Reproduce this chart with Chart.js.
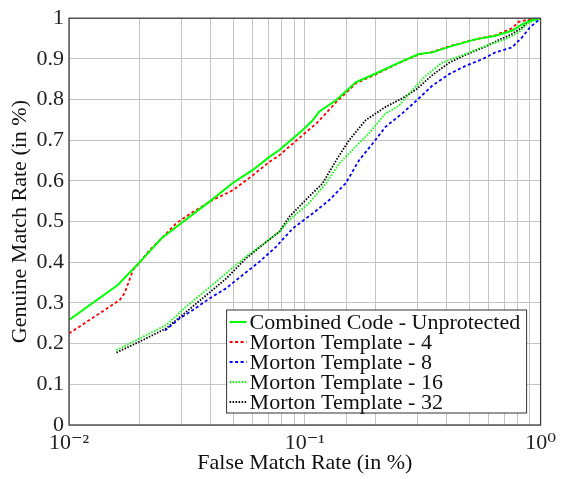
<!DOCTYPE html>
<html>
<head>
<meta charset="utf-8">
<script src="https://cdn.jsdelivr.net/npm/chart.js@4.4.0/dist/chart.umd.min.js"></script>
<style>
  html, body { margin: 0; padding: 0; background: #fff; }
  #wrap { width: 561px; height: 479px; }
</style>
</head>
<body>
<div id="wrap"><canvas id="rocChart" width="561" height="479"></canvas></div>
<script>
// values (FMR on a log axis, GMR linear)
const seriesNames = [
  'Combined Code - Unprotected',
  'Morton Template - 4',
  'Morton Template - 8',
  'Morton Template - 16',
  'Morton Template - 32'
];

const combinedX = [0.01, 0.0161, 0.0200, 0.0247, 0.0394, 0.0495, 0.0602, 0.0708, 0.078, 0.098,
  0.108, 0.115, 0.136, 0.165, 0.200, 0.251, 0.305, 0.347, 0.422, 0.529, 0.643, 0.756, 0.834, 0.918, 1.0];
const combinedY = [0.258, 0.344, 0.401, 0.459, 0.549, 0.595, 0.627, 0.659, 0.676, 0.725,
  0.749, 0.770, 0.799, 0.843, 0.864, 0.891, 0.912, 0.916, 0.932, 0.948, 0.957, 0.969, 0.985, 0.995, 1.0];

const morton4X = [0.01, 0.0164, 0.0172, 0.0187, 0.0200, 0.0220, 0.0251, 0.0285, 0.0336, 0.0407,
  0.0495, 0.0602, 0.0708, 0.078, 0.098, 0.112, 0.136, 0.165, 0.200, 0.251,
  0.305, 0.347, 0.422, 0.529, 0.643, 0.756, 0.807, 0.900, 1.0];
const morton4Y = [0.225, 0.307, 0.324, 0.381, 0.401, 0.430, 0.463, 0.496, 0.524, 0.553,
  0.577, 0.614, 0.647, 0.663, 0.713, 0.741, 0.794, 0.840, 0.862, 0.890,
  0.911, 0.917, 0.933, 0.948, 0.958, 0.975, 0.991, 0.998, 1.0];

const morton8X = [0.0255, 0.0295, 0.0336, 0.0394, 0.0464, 0.0546, 0.0641, 0.0755, 0.0888, 0.108,
  0.127, 0.149, 0.170, 0.194, 0.220, 0.259, 0.297, 0.347, 0.408, 0.481,
  0.565, 0.643, 0.756, 0.834, 0.900, 1.0];
const morton8Y = [0.232, 0.262, 0.283, 0.311, 0.336, 0.369, 0.401, 0.438, 0.483, 0.520,
  0.553, 0.594, 0.651, 0.692, 0.733, 0.766, 0.797, 0.834, 0.862, 0.883,
  0.899, 0.916, 0.928, 0.953, 0.977, 1.0];

const morton16X = [0.0159, 0.0206, 0.0259, 0.0314, 0.0382, 0.0464, 0.0564, 0.0686, 0.078, 0.086,
  0.104, 0.123, 0.140, 0.159, 0.187, 0.220, 0.251, 0.276, 0.325, 0.383,
  0.481, 0.583, 0.709, 0.807, 0.888, 1.0];
const morton16Y = [0.184, 0.217, 0.246, 0.291, 0.332, 0.373, 0.414, 0.450, 0.475, 0.504,
  0.545, 0.594, 0.643, 0.676, 0.717, 0.766, 0.785, 0.813, 0.858, 0.891,
  0.912, 0.932, 0.948, 0.965, 0.989, 1.0];

const morton32X = [0.0159, 0.0206, 0.0259, 0.0314, 0.0382, 0.0464, 0.0564, 0.0686, 0.078, 0.086,
  0.104, 0.119, 0.136, 0.154, 0.181, 0.220, 0.259, 0.297, 0.347, 0.408,
  0.481, 0.583, 0.662, 0.756, 0.834, 0.888, 1.0];
const morton32Y = [0.178, 0.209, 0.238, 0.278, 0.319, 0.360, 0.410, 0.450, 0.475, 0.512,
  0.561, 0.594, 0.651, 0.700, 0.749, 0.782, 0.803, 0.825, 0.860, 0.890,
  0.910, 0.930, 0.946, 0.961, 0.977, 0.993, 1.0];

const yTicks = [0, 0.1, 0.2, 0.3, 0.4, 0.5, 0.6, 0.7, 0.8, 0.9, 1];

const FONT = '"Liberation Serif", "DejaVu Serif", serif';

function toPoints(xs, ys) {
  return xs.map((x, i) => ({ x: x, y: ys[i] }));
}

function makeSet(i, xs, ys, color, dash, width) {
  return {
    label: seriesNames[i],
    data: toPoints(xs, ys),
    borderColor: color,
    backgroundColor: color,
    borderDash: dash,
    borderWidth: width,
    pointRadius: 0,
    tension: 0,
    fill: false
  };
}

const datasets = [
  makeSet(0, combinedX, combinedY, '#00ff00', [], 2),
  makeSet(1, morton4X, morton4Y, '#ff0000', [3, 2.5], 1.8),
  makeSet(2, morton8X, morton8Y, '#0000ff', [3, 2.5], 1.8),
  makeSet(3, morton16X, morton16Y, '#00ff00', [1.5, 1.5], 1.8),
  makeSet(4, morton32X, morton32Y, '#000000', [1.5, 1.5], 1.8)
];

// frame around the plot area, like pgfplots
const framePlugin = {
  id: 'frame',
  afterDatasetsDraw(chart) {
    const a = chart.chartArea;
    const ctx = chart.ctx;
    ctx.save();
    ctx.strokeStyle = '#404040';
    ctx.lineWidth = 1.3;
    ctx.strokeRect(a.left, a.top, a.right - a.left, a.bottom - a.top);
    ctx.restore();
  }
};

// legend box in the lower right corner of the plot
const boxLegend = {
  id: 'boxLegend',
  afterDraw(chart) {
    const a = chart.chartArea;
    const ctx = chart.ctx;
    const w = 300, h = 103;
    const x0 = a.right - 14 - w;
    const y0 = a.bottom - 12 - h;
    ctx.save();
    ctx.fillStyle = '#fff';
    ctx.fillRect(x0, y0, w, h);
    ctx.strokeStyle = '#333';
    ctx.lineWidth = 1;
    ctx.strokeRect(x0, y0, w, h);
    ctx.font = '22px ' + FONT;
    ctx.textBaseline = 'middle';
    chart.data.datasets.forEach((ds, i) => {
      const cy = y0 + 12 + i * 20;
      ctx.strokeStyle = ds.borderColor;
      ctx.lineWidth = ds.borderWidth;
      ctx.setLineDash(ds.borderDash);
      ctx.beginPath();
      ctx.moveTo(x0 + 3, cy);
      ctx.lineTo(x0 + 20, cy);
      ctx.stroke();
      ctx.setLineDash([]);
      ctx.fillStyle = '#111';
      ctx.fillText(ds.label, x0 + 23, cy + 1);
    });
    ctx.restore();
  }
};

new Chart(document.getElementById('rocChart'), {
  type: 'line',
  data: { datasets: datasets },
  options: {
    responsive: false,
    animation: false,
    layout: { padding: { top: 18, right: 19, left: 0, bottom: 0 } },
    plugins: {
      legend: { display: false },
      tooltip: { enabled: false }
    },
    scales: {
      x: {
        type: 'logarithmic',
        min: 0.01,
        max: 1,
        grid: { color: '#c4c4c4', lineWidth: 1, drawTicks: false },
        border: { display: false },
        ticks: {
          autoSkip: false,
          maxRotation: 0,
          padding: 5,
          color: '#222',
          font: { family: FONT, size: 22 },
          callback: function (v) {
            const e = Math.log10(v);
            if (Math.abs(e - Math.round(e)) > 1e-6) return '';
            const r = Math.round(e);
            return r === 0 ? '10\u2070' : r === -1 ? '10\u207B\u00B9' : '10\u207B\u00B2';
          }
        },
        title: {
          display: true,
          text: 'False Match Rate (in %)',
          color: '#111',
          padding: { top: 0, bottom: 3 },
          font: { family: FONT, size: 22 }
        },
        afterFit(scale) { scale.height = 54; }
      },
      y: {
        type: 'linear',
        min: 0,
        max: 1,
        grid: { color: '#c4c4c4', lineWidth: 1, drawTicks: false },
        border: { display: false },
        afterBuildTicks(scale) {
          scale.ticks = yTicks.map(v => ({ value: v }));
        },
        ticks: {
          padding: 5,
          color: '#222',
          font: { family: FONT, size: 22 },
          callback: function (v) {
            return (v === 0 || v === 1) ? String(v) : v.toFixed(1);
          }
        },
        title: {
          display: true,
          text: 'Genuine Match Rate (in %)',
          color: '#111',
          padding: { top: 7, bottom: 0 },
          font: { family: FONT, size: 22 }
        },
        afterFit(scale) { scale.width = 69; }
      }
    }
  },
  plugins: [framePlugin, boxLegend]
});
</script>
</body>
</html>
